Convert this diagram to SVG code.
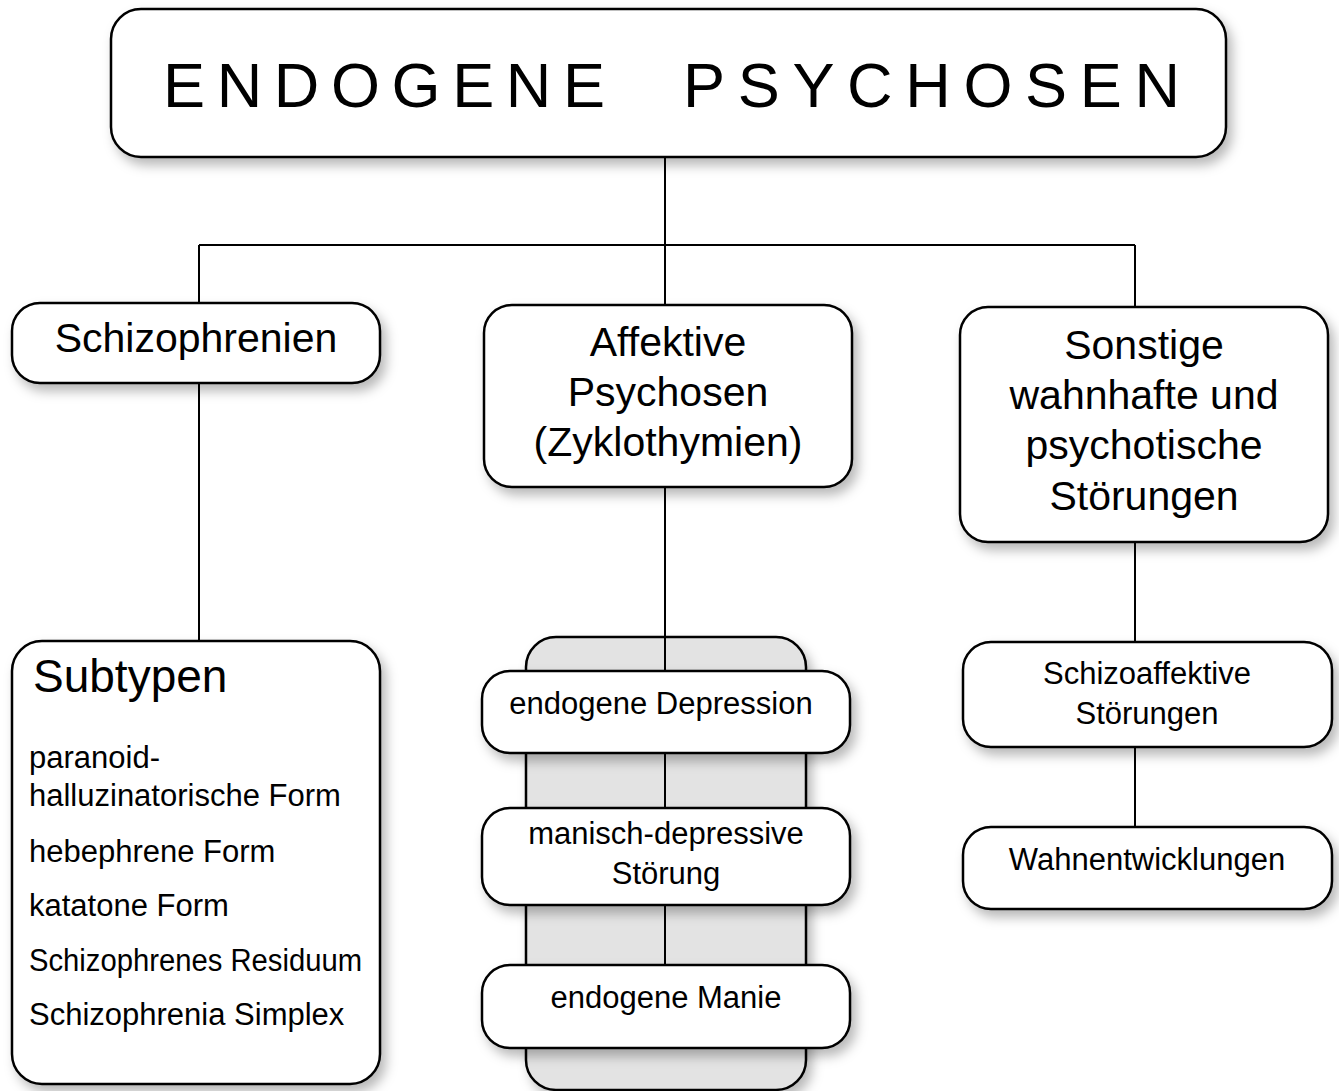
<svg xmlns="http://www.w3.org/2000/svg" width="1339" height="1091" viewBox="0 0 1339 1091">
<defs>
<filter id="sh" x="-10%" y="-10%" width="130%" height="140%">
<feDropShadow dx="5" dy="7" stdDeviation="6" flood-color="#000" flood-opacity="0.28"/>
</filter>
</defs>
<style>
.box{fill:#fff;stroke:#000;stroke-width:2.5;filter:url(#sh)}
.panel{fill:#e3e3e3;stroke:#000;stroke-width:2.5;filter:url(#sh)}
.ln{stroke:#000;stroke-width:2;fill:none}
text{font-family:"Liberation Sans",Arial,sans-serif;fill:#000}
.c{text-anchor:middle}
.t41{font-size:41px}
.t31{font-size:31px}
</style>
<rect x="0" y="0" width="1339" height="1091" fill="#fff"/>
<g id="connectors">
<line class="ln" x1="665" y1="157" x2="665" y2="305"/>
<line class="ln" x1="199" y1="245" x2="1135" y2="245"/>
<line class="ln" x1="199" y1="245" x2="199" y2="303"/>
<line class="ln" x1="1135" y1="245" x2="1135" y2="307"/>
<line class="ln" x1="199" y1="383" x2="199" y2="641"/>
<line class="ln" x1="1135" y1="542" x2="1135" y2="642"/>
<line class="ln" x1="1135" y1="747" x2="1135" y2="827"/>
</g>
<g id="title">
<rect class="box" x="111" y="9" width="1115" height="148" rx="30"/>
<text x="163" y="107" font-size="63" textLength="442" lengthAdjust="spacing">ENDOGENE</text>
<text x="683" y="107" font-size="63" textLength="497" lengthAdjust="spacing">PSYCHOSEN</text>
</g>
<g id="schizophrenien">
<rect class="box" x="12" y="303" width="368" height="80" rx="28"/>
<text class="c t41" x="196" y="352">Schizophrenien</text>
</g>
<g id="affektive">
<rect class="box" x="484" y="305" width="368" height="182" rx="28"/>
<text class="c t41" x="668" y="356">Affektive</text>
<text class="c t41" x="668" y="406">Psychosen</text>
<text class="c t41" x="668" y="456">(Zyklothymien)</text>
</g>
<g id="sonstige">
<rect class="box" x="960" y="307" width="368" height="235" rx="28"/>
<text class="c t41" x="1144" y="359">Sonstige</text>
<text class="c t41" x="1144" y="409">wahnhafte und</text>
<text class="c t41" x="1144" y="459">psychotische</text>
<text class="c t41" x="1144" y="510">Störungen</text>
</g>
<g id="subtypen">
<rect class="box" x="12" y="641" width="368" height="443" rx="30"/>
<text x="33" y="692" font-size="46">Subtypen</text>
<text class="t31" x="29" y="768">paranoid-</text>
<text class="t31" x="29" y="806">halluzinatorische Form</text>
<text class="t31" x="29" y="862">hebephrene Form</text>
<text class="t31" x="29" y="916">katatone Form</text>
<text class="t31" x="29" y="971" textLength="333" lengthAdjust="spacingAndGlyphs">Schizophrenes Residuum</text>
<text class="t31" x="29" y="1025">Schizophrenia Simplex</text>
</g>
<g id="affektiv-panel">
<rect class="panel" x="526" y="637" width="280" height="453" rx="30"/>
<line class="ln" x1="665" y1="487" x2="665" y2="966"/>
</g>
<g id="depression">
<rect class="box" x="482" y="671" width="368" height="82" rx="28"/>
<text class="c t31" x="661" y="714">endogene Depression</text>
</g>
<g id="manisch">
<rect class="box" x="482" y="808" width="368" height="97" rx="28"/>
<text class="c t31" x="666" y="844">manisch-depressive</text>
<text class="c t31" x="666" y="884">Störung</text>
</g>
<g id="manie">
<rect class="box" x="482" y="965" width="368" height="83" rx="28"/>
<text class="c t31" x="666" y="1008">endogene Manie</text>
</g>
<g id="schizoaffektiv">
<rect class="box" x="963" y="642" width="369" height="105" rx="28"/>
<text class="c t31" x="1147" y="684">Schizoaffektive</text>
<text class="c t31" x="1147" y="724">Störungen</text>
</g>
<g id="wahnentwicklungen">
<rect class="box" x="963" y="827" width="369" height="82" rx="28"/>
<text class="c t31" x="1147" y="870">Wahnentwicklungen</text>
</g>
</svg>
